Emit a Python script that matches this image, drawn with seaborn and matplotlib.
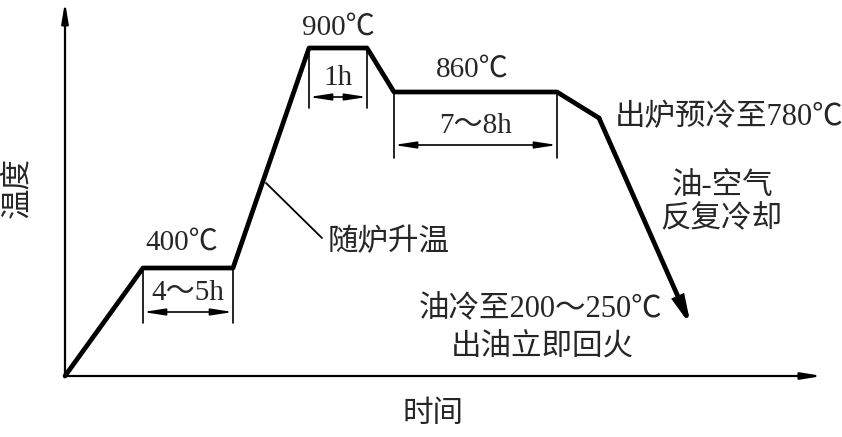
import matplotlib
matplotlib.use('Agg')
import matplotlib.pyplot as plt
import seaborn as sns

# heat treatment curve (schematic units: time right, temperature up)
time_pts = [0, 78, 168, 244, 302, 329, 492, 534]
temp_pts = [0, 108, 108, 328, 328, 284, 284, 258]
quench_end = (626, 50)

temp_labels = ['400℃', '900℃', '860℃']
hold_labels = ['4～5h', '1h', '7～8h']
note_labels = ['出炉预冷至780℃', '油-空气', '反复冷却', '随炉升温',
               '油冷至200～250℃', '出油立即回火']
axis_labels = ['时间', '温度']

sns.set_style('white')
plt.rcParams['font.family'] = ['Liberation Serif', 'Noto Sans CJK SC', 'DejaVu Sans']

fig = plt.figure(figsize=(8.42, 4.37), dpi=100)
ax = fig.add_axes([0, 0, 1, 1])
ax.set_xlim(-65, 777)
ax.set_ylim(-61, 376)
ax.axis('off')

# axes with arrows
ax.annotate('', xy=(0, 374), xytext=(0, 0),
            arrowprops=dict(arrowstyle='-|>,head_length=1.2,head_width=0.2', lw=1.6, color='black',
                            shrinkA=0, shrinkB=0))
ax.annotate('', xy=(757, 0), xytext=(0, 0),
            arrowprops=dict(arrowstyle='-|>,head_length=1.2,head_width=0.2', lw=1.6, color='black',
                            shrinkA=0, shrinkB=0))

# curve
sns.lineplot(x=time_pts, y=temp_pts, sort=False, estimator=None, color='black', lw=3.4, ax=ax)
ax.annotate('', xy=quench_end, xytext=(time_pts[-1], temp_pts[-1]),
            arrowprops=dict(arrowstyle='-|>,head_length=1.4,head_width=0.3', lw=3.4, color='black',
                            shrinkA=0, shrinkB=0, joinstyle='miter'))

# holding time dimension marks
dims = [
    (time_pts[1], time_pts[2], temp_pts[1], 53, 64),
    (time_pts[3], time_pts[4], temp_pts[3], 268, 279),
    (time_pts[5], time_pts[6], temp_pts[5], 218, 231),
]
for (x0, x1, ytop, ybot, yarr), lab in zip(dims, hold_labels):
    ax.plot([x0, x0], [ytop, ybot], color='black', lw=1.2)
    ax.plot([x1, x1], [ytop, ybot], color='black', lw=1.2)
    ax.annotate('', xy=(x1, yarr), xytext=(x0, yarr),
                arrowprops=dict(arrowstyle='<|-|>,head_length=1.3,head_width=0.2', lw=1.2,
                                color='black', shrinkA=0, shrinkB=0))
    ax.text((x0 + x1) / 2, yarr + 19, lab, ha='center', va='center', fontsize=21)

fs_num = 21
fs = 22
ax.text(117, 133, temp_labels[0], ha='center', va='center', fontsize=fs_num)
ax.text(273, 348, temp_labels[1], ha='center', va='center', fontsize=fs_num)
ax.text(407, 306, temp_labels[2], ha='center', va='center', fontsize=fs_num)

ax.text(550, 258, note_labels[0], ha='left', va='center', fontsize=fs)
ax.text(658, 189, note_labels[1], ha='center', va='center', fontsize=fs)
ax.text(656, 156, note_labels[2], ha='center', va='center', fontsize=fs)
ax.text(263, 133, note_labels[3], ha='left', va='center', fontsize=fs)
ax.plot([201, 257], [193, 138], color='black', lw=1.3)
ax.text(476, 66, note_labels[4], ha='center', va='center', fontsize=fs)
ax.text(477, 28, note_labels[5], ha='center', va='center', fontsize=fs)

ax.text(368, -39, axis_labels[0], ha='center', va='center', fontsize=fs)
ax.text(-47, 189, axis_labels[1], ha='center', va='center', fontsize=fs, rotation=90)

fig.savefig('out.png', dpi=100)
